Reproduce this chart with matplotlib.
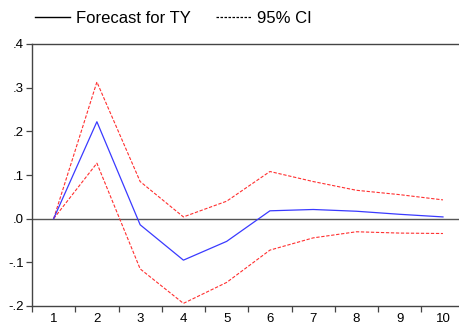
import matplotlib
matplotlib.use("Agg")
import matplotlib.pyplot as plt
from matplotlib.lines import Line2D
import numpy as np

plt.rcParams['font.family'] = ['Liberation Sans', 'DejaVu Sans']

periods = [1, 2, 3, 4, 5, 6, 7, 8, 9, 10]
forecast = [0.0, 0.222, -0.014, -0.095, -0.052, 0.018, 0.021, 0.017, 0.010, 0.004]
upper = [0.0, 0.313, 0.085, 0.004, 0.040, 0.108, 0.085, 0.065, 0.055, 0.043]
lower = [0.0, 0.127, -0.115, -0.194, -0.146, -0.072, -0.044, -0.030, -0.033, -0.034]
ytick_vals = [-0.2, -0.1, 0.0, 0.1, 0.2, 0.3, 0.4]
ytick_labels = ['-.2', '-.1', '.0', '.1', '.2', '.3', '.4']

fig = plt.figure(figsize=(4.6, 3.27), dpi=100)
ax = fig.add_axes([32/460, 1 - 306/327, 1 - 32/460 + 0.01, (306 - 44)/327])

ax.axhline(0, color='#555555', lw=1.0, zorder=1)
ax.plot(periods, upper, color='#ff3030', lw=0.8, ls=(0, (3, 1.5)), zorder=2)
ax.plot(periods, lower, color='#ff3030', lw=0.8, ls=(0, (3, 1.5)), zorder=2)
ax.plot(periods, forecast, color='#3a3aff', lw=0.9, zorder=3)

ax.set_xlim(0.5, 10.5)
ax.set_ylim(-0.2, 0.4)
ax.set_yticks(ytick_vals)
ax.set_yticklabels(ytick_labels)
ax.set_xticks(periods)
ax.set_xticklabels([str(p) for p in periods])
ax.set_xticks(np.arange(0.5, 10.6, 1.0), minor=True)
ax.tick_params(axis='x', which='major', length=0, pad=5, labelsize=9.5)
ax.tick_params(axis='x', which='minor', length=4, width=0.9, color='#444444', direction='out')
ax.tick_params(axis='y', length=4, width=0.9, color='#444444', direction='out', labelsize=9.5, pad=2)

for s in ['left', 'top', 'bottom']:
    ax.spines[s].set_color('#444444')
    ax.spines[s].set_linewidth(1.0)
ax.spines['right'].set_visible(False)

handles = [Line2D([], [], color='black', lw=1.0),
           Line2D([], [], color='black', lw=0.9, ls=(0, (2, 1.2)))]
fig.legend(handles, ['Forecast for TY', '95% CI'], loc='upper left',
           bbox_to_anchor=(35/460, 1 - 11/327), ncol=2, frameon=False, fontsize=12,
           handlelength=2.1, handletextpad=0.35, columnspacing=1.5,
           borderpad=0, borderaxespad=0)

fig.savefig('out.png', dpi=100)
